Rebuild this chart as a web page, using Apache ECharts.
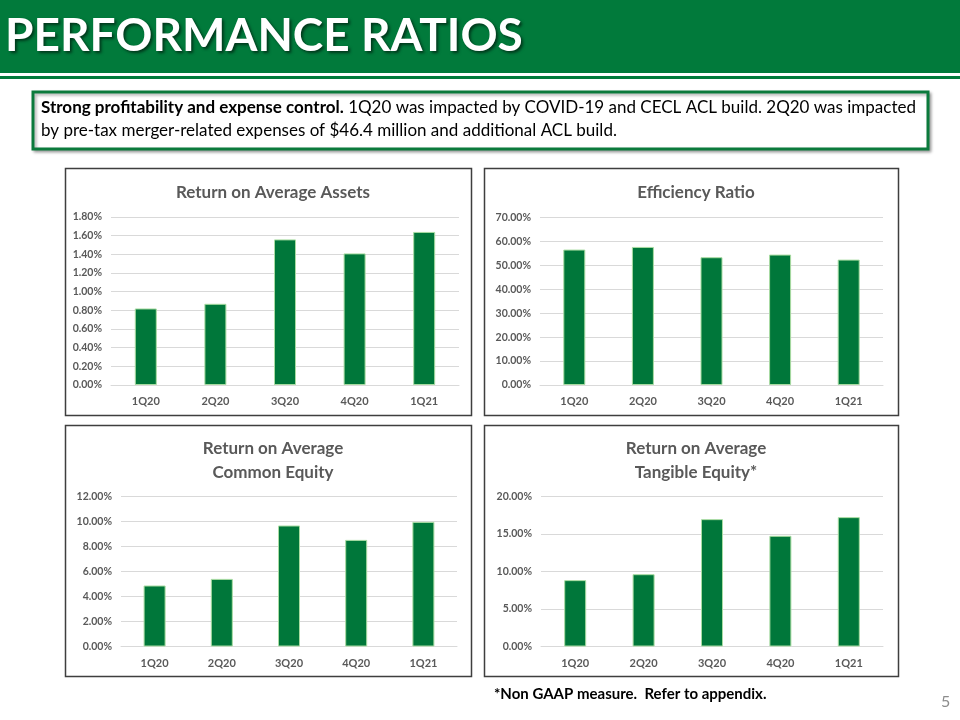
<!DOCTYPE html>
<html>
<head>
<meta charset="utf-8">
<script src="https://cdn.jsdelivr.net/npm/echarts@6/dist/echarts.min.js"></script>
<style>
html,body{margin:0;padding:0;background:#fff;}
#main{width:960px;height:720px;}
</style>
</head>
<body>
<div id="main"></div>
<script>
// ---- data ----
var categories = ['1Q20', '2Q20', '3Q20', '4Q20', '1Q21'];
var roaa = [0.82, 0.87, 1.56, 1.41, 1.64];
var efficiency = [56.6, 57.7, 53.4, 54.5, 52.4];
var roace = [4.88, 5.41, 9.68, 8.53, 9.97];
var roate = [8.85, 9.64, 16.98, 14.76, 17.25];
var chartTitles = ['Return on Average Assets', 'Efficiency Ratio', 'Return on Average\nCommon Equity', 'Return on Average\nTangible Equity*'];
var pageTitle = 'PERFORMANCE RATIOS';
var boldLead = 'Strong profitability and expense control.';
var line1Rest = ' 1Q20 was impacted by COVID-19 and CECL ACL build. 2Q20 was impacted';
var line2 = 'by pre-tax merger-related expenses of $46.4 million and additional ACL build.';
var footnote = '*Non GAAP measure.  Refer to appendix.';
var pageNum = '5';

var FONT = 'Lato, "Open Sans", sans-serif';
var GREEN = '#00773a';
var GRAY = '#595959';

var chart = echarts.init(document.getElementById('main'), null, {renderer: 'canvas'});

var grids = [
  {left: 111, right: 501, top: 217, bottom: 335},
  {left: 540, right: 77, top: 217.5, bottom: 335},
  {left: 121, right: 503, top: 496.5, bottom: 73.5},
  {left: 541, right: 77, top: 496.5, bottom: 73.5}
];
var yCfg = [
  {max: 1.8, interval: 0.2},
  {max: 70, interval: 10},
  {max: 12, interval: 2},
  {max: 20, interval: 5}
];
var seriesData = [roaa, efficiency, roace, roate];
var titlePos = [
  {x: 268, y: 176},
  {x: 691, y: 176},
  {x: 268, y: 432},
  {x: 691, y: 432}
];

var xAxes = [], yAxes = [], series = [], titles = [];
for (var i = 0; i < 4; i++) {
  xAxes.push({
    type: 'category', gridIndex: i, data: categories,
    axisLine: {lineStyle: {color: '#d9d9d9', width: 1}},
    axisTick: {show: false},
    axisLabel: {color: GRAY, fontFamily: FONT, fontSize: 11, fontWeight: 'bold', margin: 11}
  });
  yAxes.push({
    type: 'value', gridIndex: i, min: 0, max: yCfg[i].max, interval: yCfg[i].interval,
    axisLine: {show: false}, axisTick: {show: false},
    splitLine: {lineStyle: {color: '#d9d9d9', width: 1}},
    axisLabel: {color: GRAY, fontFamily: FONT, fontSize: 10.5, fontWeight: 'bold', margin: 9,
      formatter: function (v) { return v.toFixed(2) + '%'; }}
  });
  series.push({
    type: 'bar', xAxisIndex: i, yAxisIndex: i, data: seriesData[i], barWidth: 22,
    itemStyle: {color: GREEN, borderColor: '#a9dca2', borderWidth: 1},
    silent: true
  });
  titles.push({
    text: chartTitles[i], left: titlePos[i].x, top: titlePos[i].y, textAlign: 'center',
    textStyle: {color: GRAY, fontFamily: FONT, fontSize: 17, fontWeight: 'bold', lineHeight: 24}
  });
}

var panels = [
  [65, 168, 406, 247],
  [484, 168, 414, 247],
  [65, 425, 406, 251],
  [484, 425, 414, 251]
];
var graphics = [
  {type: 'rect', z: -10, shape: {x: 0, y: 0, width: 960, height: 73}, style: {fill: '#017a3b'}},
  {type: 'rect', z: -10, shape: {x: 0, y: 76, width: 960, height: 3}, style: {fill: '#017a3b'}},
  {type: 'text', z: 5, left: 5, top: 13, style: {
    text: pageTitle, fill: '#ffffff', font: 'bold 46px ' + FONT,
    textShadowColor: 'rgba(0,0,0,0.55)', textShadowOffsetX: 2, textShadowOffsetY: 2, textShadowBlur: 3}},
  {type: 'rect', z: -5, shape: {x: 33, y: 92, width: 895, height: 57},
    style: {fill: '#ffffff', stroke: '#0b7a3c', lineWidth: 3, shadowColor: 'rgba(0,0,0,0.3)', shadowBlur: 3, shadowOffsetX: 2, shadowOffsetY: 2}},
  {type: 'text', z: 5, left: 41, top: 99, style: {
    text: '{b|' + boldLead + '}{r|' + line1Rest + '}\n{r|' + line2 + '}',
    rich: {
      b: {font: 'bold 17px ' + FONT, fill: '#000', lineHeight: 23},
      r: {font: '17px ' + FONT, fill: '#000', lineHeight: 23}
    }}},
  {type: 'text', z: 5, left: 494, top: 687, style: {text: footnote, fill: '#000', font: 'bold 15px ' + FONT}},
  {type: 'text', z: 5, left: 941, top: 694, style: {text: pageNum, fill: '#8c8c8c', font: '16px ' + FONT}}
];
panels.forEach(function (p) {
  graphics.push({type: 'rect', z: -8, shape: {x: p[0] + 0.5, y: p[1] + 0.5, width: p[2], height: p[3]},
    style: {fill: '#ffffff', stroke: '#3f3f3f', lineWidth: 1.5}});
});

chart.setOption({
  backgroundColor: '#ffffff',
  animation: false,
  title: titles,
  grid: grids,
  xAxis: xAxes,
  yAxis: yAxes,
  series: series,
  graphic: {elements: graphics}
});
</script>
</body>
</html>
